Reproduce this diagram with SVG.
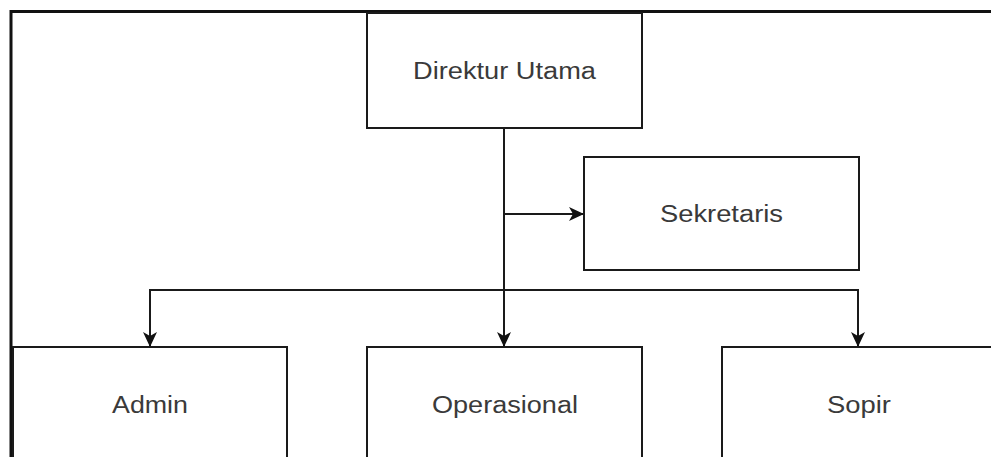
<svg xmlns="http://www.w3.org/2000/svg" width="991" height="457" viewBox="0 0 991 457">
  <style>
    .box { fill: #ffffff; stroke: #1a1a1a; stroke-width: 2; }
    .lbl { font-family: "Liberation Sans", Arial, sans-serif; font-size: 23.5px; fill: #3a3a3a; text-anchor: middle; }
    .wire { fill: none; stroke: #1a1a1a; stroke-width: 2; }
    .frame { fill: none; stroke: #111111; stroke-width: 3; }
  </style>
  <defs>
    <marker id="arrow" markerUnits="userSpaceOnUse" markerWidth="16" markerHeight="14" refX="15" refY="7" orient="auto">
      <path d="M0,0 L15,7 L0,14 L4,7 Z" fill="#111111"/>
    </marker>
  </defs>
  <rect x="0" y="0" width="991" height="457" fill="#ffffff"/>

  <!-- outer frame, left and top edges -->
  <path class="frame" d="M11,457 V11.5 H991"/>

  <g id="connectors">
    <path class="wire" d="M504,128 V347" marker-end="url(#arrow)"/>
    <path class="wire" d="M504,214 H584" marker-end="url(#arrow)"/>
    <path class="wire" d="M504,290 H150 V347" marker-end="url(#arrow)"/>
    <path class="wire" d="M504,290 H858 V347" marker-end="url(#arrow)"/>
  </g>

  <g id="direktur-utama">
    <rect class="box" x="367" y="13" width="275" height="115"/>
    <text class="lbl" x="504.5" y="79" textLength="183" lengthAdjust="spacingAndGlyphs">Direktur Utama</text>
  </g>
  <g id="sekretaris">
    <rect class="box" x="584" y="157" width="275" height="113"/>
    <text class="lbl" x="721.5" y="222" textLength="123" lengthAdjust="spacingAndGlyphs">Sekretaris</text>
  </g>
  <g id="admin">
    <rect class="box" x="13" y="347" width="274" height="120"/>
    <text class="lbl" x="150" y="413" textLength="76" lengthAdjust="spacingAndGlyphs">Admin</text>
  </g>
  <g id="operasional">
    <rect class="box" x="367" y="347" width="275" height="120"/>
    <text class="lbl" x="505" y="413" textLength="146" lengthAdjust="spacingAndGlyphs">Operasional</text>
  </g>
  <g id="sopir">
    <rect class="box" x="722" y="347" width="280" height="120"/>
    <text class="lbl" x="859" y="413" textLength="64" lengthAdjust="spacingAndGlyphs">Sopir</text>
  </g>
</svg>
